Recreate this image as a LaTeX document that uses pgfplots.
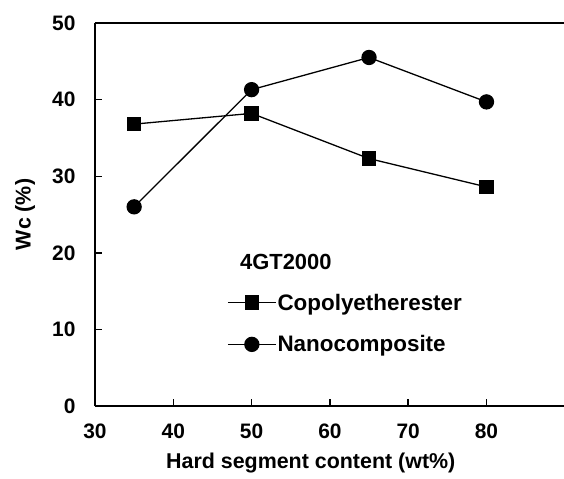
\documentclass[border=0pt]{standalone}
\usepackage{fontspec}
\setmainfont{Liberation Sans}
\usepackage{pgfplots}
\pgfplotsset{compat=1.18}
\begin{document}
\begin{tikzpicture}
\begin{axis}[
  scale only axis,
  width=469bp, height=383bp,
  xmin=30, xmax=89.9, ymin=0, ymax=50,
  axis x line=box, axis y line=left,
  axis line style={line width=1.6bp, -},
  every axis plot/.append style={line width=1.3bp},
  xtick={30,40,50,60,70,80}, ytick={0,10,20,30,40,50},
  tick align=inside, major tick length=7bp,
  tick style={line width=1.4bp, black},
  xtick pos=bottom, ytick pos=left,
  /pgf/number format/assume math mode=true,
  tick label style={font=\bfseries\fontsize{21}{24}\selectfont},
  yticklabel style={xshift=-16bp},
  xticklabel style={yshift=-14bp},
  xlabel={Hard segment content (wt\%)},
  ylabel={Wc (\%)},
  every axis x label/.style={at={(axis description cs:0.46,-0.149)}, anchor=center, font=\bfseries\fontsize{21.5}{24}\selectfont},
  every axis y label/.style={at={(axis description cs:-0.149,0.5)}, rotate=90, anchor=center, font=\bfseries\fontsize{21.5}{24}\selectfont},
  legend style={draw=none, fill=none, at={(rel axis cs:0.2815,0.2154)}, anchor=west,
    font=\bfseries\fontsize{22.5}{25}\selectfont, row sep=22bp, inner sep=0pt,
    nodes={inner sep=1bp}},
  legend cell align=left,
  legend image code/.code={\draw[mark repeat=2,mark phase=2] plot coordinates {(0bp,0bp)(24bp,0bp)(48bp,0bp)};},
  clip=false,
]
\addplot[black, mark=square*, mark size=6.5bp, mark options={solid}] coordinates {
 (35,36.8) (50,38.2) (65,32.3) (80,28.6)};
\addlegendentry{Copolyetherester}
\addplot[black, mark=*, mark size=7bp, mark options={solid}] coordinates {
 (35,26.0) (50,41.3) (65,45.5) (80,39.7)};
\addlegendentry{Nanocomposite}
\node[anchor=west, font=\bfseries\fontsize{22}{25}\selectfont, inner sep=0pt] at (rel axis cs:0.309,0.376) {4GT2000};
\end{axis}
\pgfresetboundingbox
\path (-95bp,-73bp) rectangle (469bp,406bp);
\end{tikzpicture}
\end{document}
